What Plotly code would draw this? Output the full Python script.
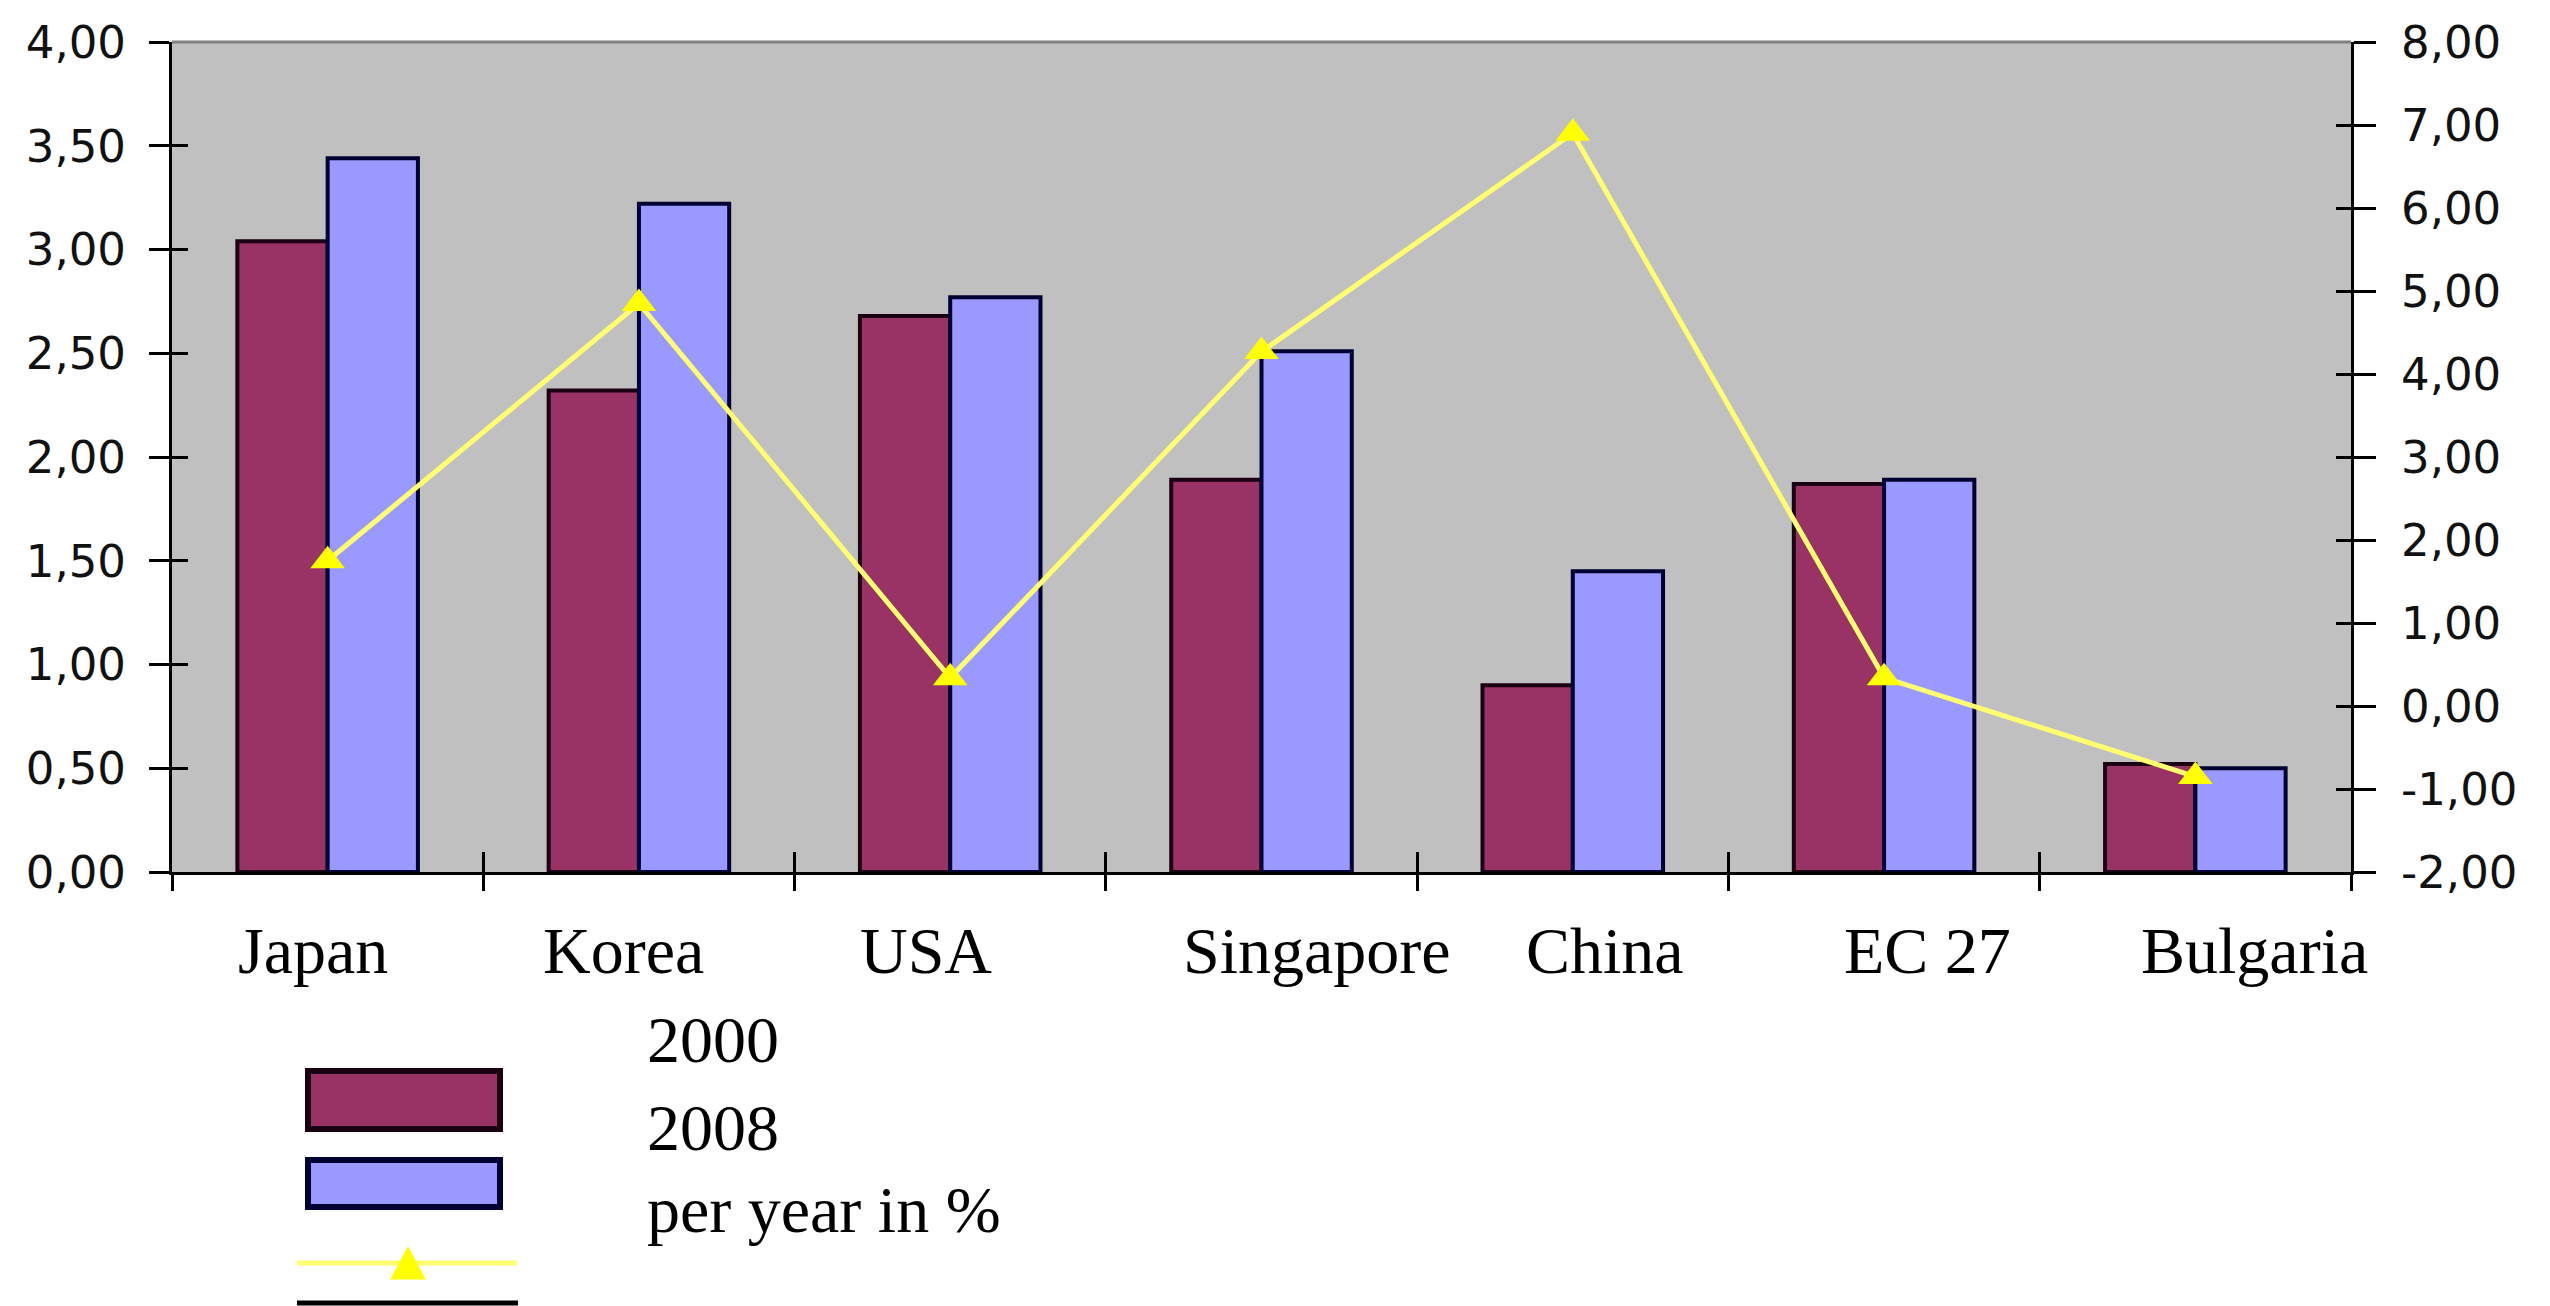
import plotly.graph_objects as go

# ---------------- data ----------------
categories = ["Japan", "Korea", "USA", "Singapore", "China", "EC 27", "Bulgaria"]
values_2000 = [3.04, 2.32, 2.68, 1.89, 0.90, 1.87, 0.52]
values_2008 = [3.44, 3.22, 2.77, 2.51, 1.45, 1.89, 0.50]
growth_pct = [1.75, 4.85, 0.34, 4.27, 6.90, 0.34, -0.85]
series_names = ["2000", "2008", "per year in %"]
left_ticks = [0, 0.5, 1, 1.5, 2, 2.5, 3, 3.5, 4]
right_ticks = [-2, -1, 0, 1, 2, 3, 4, 5, 6, 7, 8]

# ---------------- layout geometry (pixels) ----------------
W, H = 2550, 1306
L, R, T, B = 172, 2351, 42, 872


def px(x):
    return (x - L) / (R - L)


def py(y):
    return (B - y) / (B - T)


def fmt(v):
    return "{:.2f}".format(v).replace(".", ",")


MAROON = "#993366"
LAVENDER = "#9999FF"
YELLOW_LINE = "#FFFF70"
YELLOW_MARK = "#FFFF00"
TICKFONT = dict(family="DejaVu Sans", size=45, color="#111111")
SERIF = dict(family="Liberation Serif", size=66, color="black")

fig = go.Figure()
fig.add_trace(go.Bar(
    x=categories, y=values_2000, name=series_names[0],
    marker=dict(color=MAROON, line=dict(color="#1a0010", width=4)),
))
fig.add_trace(go.Bar(
    x=categories, y=values_2008, name=series_names[1],
    marker=dict(color=LAVENDER, line=dict(color="#000033", width=4)),
))
fig.add_trace(go.Scatter(
    x=categories, y=growth_pct, name=series_names[2], yaxis="y2",
    mode="lines+markers",
    line=dict(color=YELLOW_LINE, width=5),
    marker=dict(symbol="triangle-up", size=30, color=YELLOW_MARK),
))
# empty helper traces so that the overlay tick axes are drawn
fig.add_trace(go.Scatter(x=[None], y=[None], xaxis="x2", yaxis="y", mode="lines",
                         hoverinfo="skip", showlegend=False))
fig.add_trace(go.Scatter(x=categories, y=[None] * len(categories), yaxis="y3", mode="lines",
                         hoverinfo="skip", showlegend=False))
fig.add_trace(go.Scatter(x=categories, y=[None] * len(categories), yaxis="y4", mode="lines",
                         hoverinfo="skip", showlegend=False))

axis_common = dict(showgrid=False, zeroline=False, tickcolor="black", tickwidth=3)

fig.update_layout(
    width=W, height=H,
    margin=dict(l=L, r=W - R, t=T, b=H - B, pad=0),
    paper_bgcolor="white", plot_bgcolor="#C0C0C0",
    barmode="group", bargap=0.42, bargroupgap=0,
    showlegend=False, separators=", ",
    xaxis=dict(type="category", range=[-0.5, 6.5], showticklabels=False,
               ticks="outside", tickson="boundaries", ticklen=16,
               showline=True, linecolor="black", linewidth=3, **axis_common),
    xaxis2=dict(overlaying="x", anchor="y", side="bottom", type="linear", range=[-0.5, 6.5],
                tickmode="linear", tick0=-0.5, dtick=1, ticks="inside", ticklen=20,
                showticklabels=False, showline=False, **axis_common),
    yaxis=dict(range=[0, 4], tickmode="array", tickvals=left_ticks,
               ticktext=[fmt(v) for v in left_ticks],
               ticks="outside", ticklen=20, showline=True, linecolor="black", linewidth=3,
               tickfont=TICKFONT, ticklabelstandoff=14, **axis_common),
    yaxis2=dict(overlaying="y", side="right", anchor="x", range=[-2, 8],
                tickmode="array", tickvals=right_ticks,
                ticktext=[fmt(v) for v in right_ticks],
                ticks="outside", ticklen=22, showline=True, linecolor="black", linewidth=3,
                tickfont=TICKFONT, ticklabelstandoff=16, **axis_common),
    yaxis3=dict(overlaying="y", side="left", anchor="x", range=[0, 4],
                tickmode="array", tickvals=left_ticks, ticks="inside", ticklen=16,
                showticklabels=False, showline=False, **axis_common),
    yaxis4=dict(overlaying="y", side="right", anchor="x", range=[-2, 8],
                tickmode="array", tickvals=right_ticks, ticks="inside", ticklen=15,
                showticklabels=False, showline=False, **axis_common),
)

# top border of the plot area
fig.add_shape(type="line", xref="paper", yref="paper", x0=0, x1=1, y0=1, y1=1,
              line=dict(color="#808080", width=3))

# category labels (placed like the reference text boxes)
label_shift = [-15, -15, -24, 55, 32, 43, 59]
for cat, dx in zip(categories, label_shift):
    fig.add_annotation(x=cat, xref="x", y=py(950), yref="paper", yanchor="middle",
                       xanchor="center", xshift=dx, text=cat, showarrow=False, font=SERIF)

# ---------------- custom legend ----------------
fig.add_shape(type="rect", xref="paper", yref="paper",
              x0=px(308), x1=px(500), y0=py(1071), y1=py(1129),
              fillcolor=MAROON, line=dict(color="#1a0010", width=6))
fig.add_shape(type="rect", xref="paper", yref="paper",
              x0=px(308), x1=px(500), y0=py(1160), y1=py(1207),
              fillcolor=LAVENDER, line=dict(color="#000033", width=6))
fig.add_shape(type="line", xref="paper", yref="paper",
              x0=px(297), x1=px(517), y0=py(1263), y1=py(1263),
              line=dict(color=YELLOW_LINE, width=5))
cx, cy, hw, hh = 408, 1263, 17, 16
tri = "M {} {} L {} {} L {} {} Z".format(px(cx - hw), py(cy + hh), px(cx + hw), py(cy + hh),
                                         px(cx), py(cy - hh))
fig.add_shape(type="path", xref="paper", yref="paper", path=tri,
              fillcolor=YELLOW_MARK, line=dict(color=YELLOW_MARK, width=1))
fig.add_shape(type="line", xref="paper", yref="paper",
              x0=px(297), x1=px(518), y0=py(1303), y1=py(1303),
              line=dict(color="black", width=5))

for name, yc in zip(series_names, [1039, 1127, 1209]):
    fig.add_annotation(x=px(645), xref="paper", y=py(yc), yref="paper",
                       xanchor="left", yanchor="middle", text=name,
                       showarrow=False, font=SERIF)

fig.write_html("out.html")
